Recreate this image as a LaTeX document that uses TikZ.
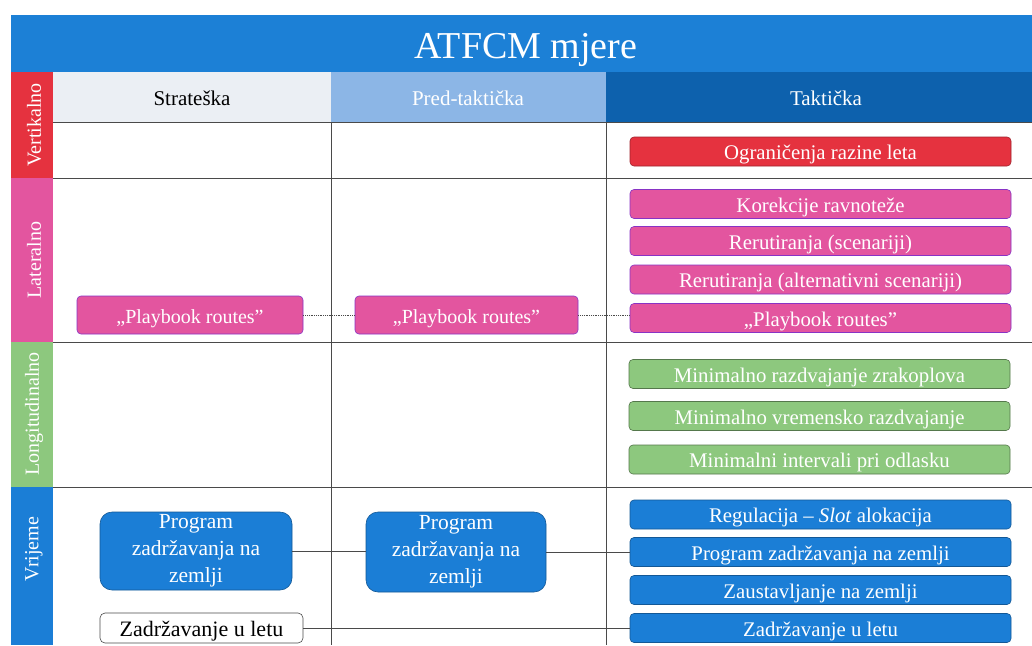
\documentclass[tikz,border=0pt]{standalone}
\usepackage{fontspec}
\setmainfont{Liberation Serif}
\definecolor{titleblue}{HTML}{1C80D6}
\definecolor{hdrlight}{HTML}{EBEFF4}
\definecolor{hdrmid}{HTML}{8CB6E6}
\definecolor{hdrdark}{HTML}{0D61AD}
\definecolor{cred}{HTML}{E5323F}
\definecolor{cpink}{HTML}{E3559F}
\definecolor{cgreen}{HTML}{8DC87E}
\definecolor{cblue}{HTML}{1B7ED6}
\definecolor{gridc}{HTML}{4A4A4A}
\begin{document}
\begin{tikzpicture}[x=1pt,y=-1pt,
  gridline/.style={draw=gridc,line width=0.8pt},
  tbox/.style={rounded corners=4pt,minimum width=381pt,minimum height=29pt,inner sep=0pt,text=white,font=\fontsize{20.8}{22}\selectfont,text height=16pt,text depth=0pt,line width=0.6pt},
  redbox/.style={tbox,fill=cred,draw=cred!70!black},
  pinkbox/.style={tbox,fill=cpink,draw=cpink!60!blue},
  greenbox/.style={tbox,fill=cgreen,draw=cgreen!60!black},
  bluebox/.style={tbox,fill=cblue,draw=cblue!70!black},
  bigbox/.style={rounded corners=12pt,fill=cblue,draw=cblue!70!black,text=white,inner sep=0pt,align=center,font=\fontsize{21.5}{27}\selectfont,line width=0.6pt},
  sidelabel/.style={rotate=90,text=white,font=\fontsize{20}{22}\selectfont},
  hdrtext/.style={font=\fontsize{21}{24}\selectfont},
  conn/.style={draw=gridc,line width=0.7pt},
  dotconn/.style={draw=gridc,line width=0.8pt,densely dotted}]
\useasboundingbox (0,0) rectangle (1032,645);
\fill[white] (0,0) rectangle (1032,645);
% title
\fill[titleblue] (11,15) rectangle (1032,72);
\node[text=white,font=\fontsize{38}{42}\selectfont] (title) at (526,50) {ATFCM mjere};
% headers
\fill[hdrlight] (53,72) rectangle (331,122);
\fill[hdrmid] (331,72) rectangle (606,122);
\fill[hdrdark] (606,72) rectangle (1032,122);
\node[hdrtext] (hS) at (192,98) {Strateška};
\node[hdrtext,text=white] (hP) at (468,98) {Pred-taktička};
\node[hdrtext,text=white] (hT) at (826,98) {Taktička};
% side labels
\fill[cred] (11,72) rectangle (53,178);
\fill[cpink] (11,178) rectangle (53,342);
\fill[cgreen] (11,342) rectangle (53,487);
\fill[cblue] (11,487) rectangle (53,645);
\node[sidelabel] (lV) at (34,125) {Vertikalno};
\node[sidelabel] (lL) at (34,260) {Lateralno};
\node[sidelabel] (lLo) at (34,414) {Longitudinalno};
\node[sidelabel] (lVr) at (34,549) {Vrijeme};
% grid
\draw[gridline] (53,122) -- (1032,122);
\draw[gridline] (53,178) -- (1032,178);
\draw[gridline] (53,342) -- (1032,342);
\draw[gridline] (53,487) -- (1032,487);
\draw[gridline] (331,122) -- (331,645);
\draw[gridline] (606,122) -- (606,645);
% tactical boxes
\node[redbox] (og) at (820.5,151.5) {Ograničenja razine leta};
\node[pinkbox] (kor) at (820.5,204) {Korekcije ravnoteže};
\node[pinkbox] (rs) at (820.5,241) {Rerutiranja (scenariji)};
\node[pinkbox] (ras) at (820.5,279.5) {Rerutiranja (alternativni scenariji)};
\node[pinkbox] (pbT) at (820.5,318) {„Playbook routes”};
\node[greenbox] (lo1) at (819.5,374) {Minimalno razdvajanje zrakoplova};
\node[greenbox] (lo2) at (819.5,416) {Minimalno vremensko razdvajanje};
\node[greenbox] (lo3) at (819.5,459.5) {Minimalni intervali pri odlasku};
\node[bluebox] (reg) at (820.5,514.5) {Regulacija -- \textit{Slot} alokacija};
\node[bluebox] (prT) at (820.5,552) {Program zadržavanja na zemlji};
\node[bluebox] (zau) at (820.5,590) {Zaustavljanje na zemlji};
\node[bluebox] (zulT) at (820.5,628) {Zadržavanje u letu};
% strategic / pre-tactical
\node[pinkbox,minimum width=226pt,minimum height=38pt,font=\fontsize{20}{22}\selectfont] (pbS) at (190,315) {„Playbook routes”};
\node[pinkbox,minimum width=223pt,minimum height=38pt,font=\fontsize{20}{22}\selectfont] (pbP) at (466.5,315) {„Playbook routes”};
\node[bigbox,minimum width=192pt,minimum height=78pt] (prS) at (196,551) {Program\\zadržavanja na\\zemlji};
\node[bigbox,minimum width=180pt,minimum height=80pt] (prP) at (456,552) {Program\\zadržavanja na\\zemlji};
\node[tbox,fill=white,draw=gridc,text=black,rounded corners=5pt,minimum width=203pt,minimum height=30pt,font=\fontsize{22}{24}\selectfont] (zulS) at (201.5,628) {Zadržavanje u letu};
% connectors
\draw[dotconn] (pbS.east) -- (pbP.west);
\draw[dotconn] (pbP.east) -- (pbP.east -| pbT.west);
\draw[conn] (prS.east) -- (prS.east -| prP.west);
\draw[conn] (prP.east) -- (prP.east -| prT.west);
\draw[conn] (zulS.east) -- (zulT.west);
\end{tikzpicture}
\end{document}
